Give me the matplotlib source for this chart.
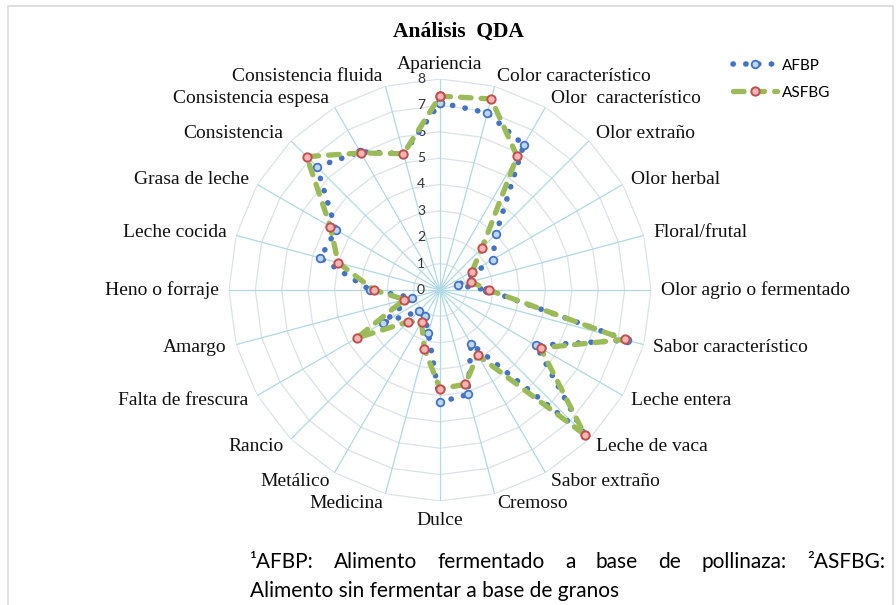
import numpy as np
import matplotlib
matplotlib.use("Agg")
import matplotlib.pyplot as plt
from matplotlib.patches import Rectangle
from matplotlib.lines import Line2D

categories = [
    "Apariencia", "Color característico", "Olor  característico", "Olor extraño",
    "Olor herbal", "Floral/frutal", "Olor agrio o fermentado", "Sabor característico",
    "Leche entera", "Leche de vaca", "Sabor extraño", "Cremoso", "Dulce", "Medicina",
    "Metálico", "Rancio", "Falta de frescura", "Amargo", "Heno o forraje",
    "Leche cocida", "Grasa de leche", "Consistencia", "Consistencia espesa",
    "Consistencia fluida",
]
afbp = [7.1, 6.95, 6.35, 3.0, 2.3, 0.72, 1.8, 7.35, 4.2, 7.75, 2.35, 4.1,
        4.25, 1.7, 1.15, 1.15, 2.5, 1.1, 2.65, 4.7, 4.55, 6.6, 6.05, 5.35]
asfbg = [7.35, 7.5, 5.85, 2.25, 1.4, 1.2, 1.85, 7.25, 4.4, 7.75, 2.85, 3.7,
         3.75, 2.3, 1.4, 1.7, 3.65, 1.4, 2.5, 4.0, 4.8, 7.15, 6.0, 5.35]
ticks = list(range(0, 9))
footnote_words = ["¹AFBP:", "Alimento", "fermentado", "a", "base", "de",
                  "pollinaza:", "²ASFBG:"]
footnote_line2 = "Alimento sin fermentar a base de granos"

W, H = 896, 605
cx, cy, R = 440, 290, 211

fig = plt.figure(figsize=(W / 100, H / 100), dpi=100)
ax = fig.add_axes([(cx - R) / W, (H - cy - R) / H, 2 * R / W, 2 * R / H],
                  projection="polar")
ax.set_theta_zero_location("N")
ax.set_theta_direction(-1)
ax.set_ylim(0, 8)
ax.set_axis_off()

n = len(categories)
theta = np.arange(n) * 2 * np.pi / n
theta_c = np.append(theta, theta[0])

# polygon grid like Excel radar
for k in ticks[1:]:
    ax.plot(theta_c, [k] * (n + 1), color="#dbe2e7", lw=0.9, zorder=1)
for t in theta:
    ax.plot([t, t], [0, 8], color="#b0d9e3", lw=0.9, zorder=1)

for k in ticks:
    ax.annotate(str(k), xy=(0, k), xytext=(-19, 0), textcoords="offset pixels",
                ha="center", va="center", fontsize=10, family="Lato",
                color="#333333", zorder=2)

blue_style = dict(color="#4472C4", lw=4.0, ls=(0, (0.05, 2.25)),
                  dash_capstyle="round", marker="o", ms=5.5, mfc="#BDD7EE",
                  mec="#4472C4", mew=1.3)
green_style = dict(color="#9BBB59", lw=3.8, ls=(0, (2.0, 1.9)),
                   dash_capstyle="round", marker="o", ms=6.0, mfc="#F4B6B4",
                   mec="#C0504D", mew=1.4)

afbp_c = afbp + afbp[:1]
asfbg_c = asfbg + asfbg[:1]
ax.plot(theta_c, afbp_c, zorder=3, label="AFBP", **blue_style)
ax.plot(theta_c, asfbg_c, zorder=4, label="ASFBG", **green_style)

# category labels
for t, lab in zip(theta, categories):
    s, c = np.sin(t), np.cos(t)
    if abs(s) < 0.01:
        ha = "center"
        r = 8.55 if c > 0 else 8.75
    else:
        ha = "left" if s > 0 else "right"
        r = 8.38
    ax.text(t, r, lab, ha=ha, va="center", fontsize=14,
            family="Liberation Serif", color="#111111")

fig.text(458 / W, 1 - 32 / H, "Análisis  QDA", ha="center", va="center",
         fontsize=15.5, family="Liberation Serif", fontweight="bold")

handles = [Line2D([], [], **blue_style), Line2D([], [], **green_style)]
fig.legend(handles, ["AFBP", "ASFBG"], loc="upper left",
           bbox_to_anchor=(719 / W, 1 - 45 / H), frameon=False,
           prop={"family": "Lato", "size": 11}, handlelength=2.9,
           handletextpad=0.3, labelspacing=0.85, numpoints=1)

# chart border
fig.patches.append(Rectangle((8 / W, -0.02), (893 - 8) / W, 1 - 6 / H + 0.02,
                             transform=fig.transFigure, fill=False,
                             edgecolor="#d9d9d9", lw=1.2, zorder=0))

# justified footnote line
fig.canvas.draw()
rend = fig.canvas.get_renderer()
x0, x1, y1 = 250, 885, H - 568
objs = [fig.text(0, y1 / H, w, fontsize=15, family="Lato", va="baseline")
        for w in footnote_words]
widths = [o.get_window_extent(rend).width for o in objs]
gap = (x1 - x0 - sum(widths)) / (len(objs) - 1)
x = x0
for o, wd in zip(objs, widths):
    o.set_x(x / W)
    x += wd + gap
fig.text(x0 / W, (H - 597) / H, footnote_line2, fontsize=15, family="Lato",
         va="baseline")

fig.savefig("out.png", dpi=100)
